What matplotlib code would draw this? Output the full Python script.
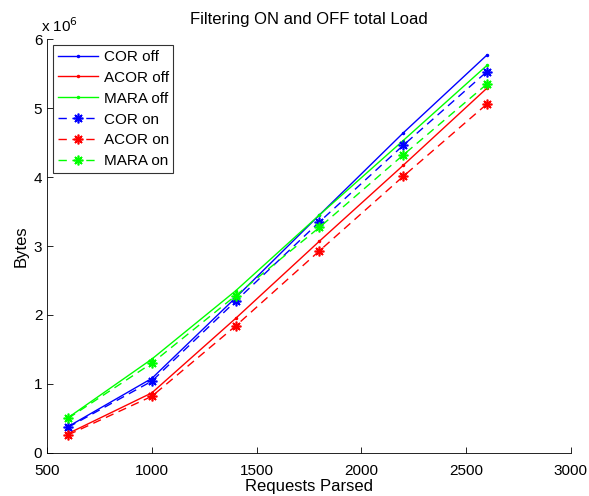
import matplotlib
matplotlib.use("Agg")
import matplotlib.pyplot as plt

plt.rcParams['font.family'] = ['Liberation Sans', 'DejaVu Sans']

requests = [600, 1000, 1400, 1800, 2200, 2600]

cor_off = [0.38e6, 1.08e6, 2.25e6, 3.45e6, 4.64e6, 5.77e6]
acor_off = [0.28e6, 0.87e6, 1.95e6, 3.07e6, 4.17e6, 5.29e6]
mara_off = [0.51e6, 1.36e6, 2.35e6, 3.45e6, 4.53e6, 5.62e6]
cor_on = [0.37e6, 1.04e6, 2.20e6, 3.35e6, 4.46e6, 5.53e6]
acor_on = [0.26e6, 0.82e6, 1.84e6, 2.93e6, 4.01e6, 5.06e6]
mara_on = [0.50e6, 1.30e6, 2.28e6, 3.27e6, 4.32e6, 5.35e6]

xticks = [500, 1000, 1500, 2000, 2500, 3000]
yticks = [0, 1, 2, 3, 4, 5, 6]

fig = plt.figure(figsize=(5.89, 4.96), dpi=100)
ax = fig.add_axes([0.080, 0.087, 0.889, 0.834])

blue, red, green = '#0000ff', '#ff0000', '#00ff00'
asterisk = (8, 2, 0)
dash = (6, 4)
ax.plot(requests, cor_off, '-', color=blue, marker='.', markersize=3, lw=1, label='COR off')
ax.plot(requests, acor_off, '-', color=red, marker='.', markersize=3, lw=1, label='ACOR off')
ax.plot(requests, mara_off, '-', color=green, marker='.', markersize=3, lw=1, label='MARA off')
ax.plot(requests, cor_on, '--', dashes=dash, color=blue, marker=asterisk, markersize=7, lw=1,
        markeredgewidth=1.2, label='COR on')
ax.plot(requests, acor_on, '--', dashes=dash, color=red, marker=asterisk, markersize=7, lw=1,
        markeredgewidth=1.2, label='ACOR on')
ax.plot(requests, mara_on, '--', dashes=dash, color=green, marker=asterisk, markersize=7, lw=1,
        markeredgewidth=1.2, label='MARA on')

ax.set_xlim(500, 3000)
ax.set_ylim(0, 6e6)
ax.set_xticks(xticks)
ax.set_yticks([v * 1e6 for v in yticks])
ax.set_yticklabels([str(v) for v in yticks])
ax.tick_params(direction='in', labelsize=11, length=4, width=0.6)
ax.tick_params(axis='x', pad=8)
for side in ('top', 'right'):
    ax.spines[side].set_visible(False)
for side in ('left', 'bottom'):
    ax.spines[side].set_linewidth(0.6)

ax.text(-0.012, 1.01, r'x 10$^{6}$', transform=ax.transAxes, fontsize=11, ha='left', va='bottom')
ax.set_title('Filtering ON and OFF total Load', fontsize=12, pad=11)
ax.set_xlabel('Requests Parsed', fontsize=12, labelpad=1)
ax.set_ylabel('Bytes', fontsize=12, labelpad=4)

leg = ax.legend(loc='upper left', fontsize=11, frameon=True, fancybox=False,
                edgecolor='black', borderaxespad=0.4, handlelength=2.6,
                labelspacing=0.45, borderpad=0.3, handletextpad=0.4, numpoints=1)
leg.get_frame().set_linewidth(0.8)

fig.savefig('out.png', dpi=100)
